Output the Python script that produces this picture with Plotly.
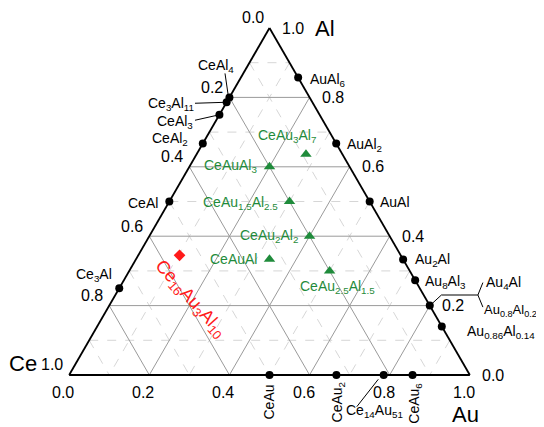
import plotly.graph_objects as go

# ---------------- data ----------------
tick_values = [0.0, 0.2, 0.4, 0.6, 0.8, 1.0]
tick_labels = ["0.0", "0.2", "0.4", "0.6", "0.8", "1.0"]
minor_values = [0.1, 0.3, 0.5, 0.7, 0.9]
grid_major = [0.2, 0.4, 0.6, 0.8]
grid_minor = [0.1, 0.3, 0.5, 0.7, 0.9]

binary_names = ["CeAl<sub>4</sub>", "Ce<sub>3</sub>Al<sub>11</sub>", "CeAl<sub>3</sub>",
                "CeAl<sub>2</sub>", "CeAl", "Ce<sub>3</sub>Al",
                "AuAl<sub>6</sub>", "AuAl<sub>2</sub>", "AuAl", "Au<sub>2</sub>Al",
                "Au<sub>8</sub>Al<sub>3</sub>", "Au<sub>4</sub>Al", "Au<sub>0.86</sub>Al<sub>0.14</sub>",
                "CeAu", "CeAu<sub>2</sub>", "Ce<sub>14</sub>Au<sub>51</sub>", "CeAu<sub>6</sub>"]
binary_ce = [0.200, 0.214, 0.250, 0.333, 0.500, 0.750,
             0.0, 0.0, 0.0, 0.0, 0.0, 0.0, 0.0,
             0.500, 0.333, 0.215, 0.143]
binary_au = [0.0, 0.0, 0.0, 0.0, 0.0, 0.0,
             0.143, 0.333, 0.500, 0.667, 0.727, 0.800, 0.860,
             0.500, 0.667, 0.785, 0.857]
binary_al = [0.800, 0.786, 0.750, 0.667, 0.500, 0.250,
             0.857, 0.667, 0.500, 0.333, 0.273, 0.200, 0.140,
             0.0, 0.0, 0.0, 0.0]
extra_label = "Au<sub>0.8</sub>Al<sub>0.2</sub>"   # same point as Au4Al

ternary_names = ["CeAu<sub>3</sub>Al<sub>7</sub>", "CeAuAl<sub>3</sub>",
                 "CeAu<sub>1.5</sub>Al<sub>2.5</sub>", "CeAu<sub>2</sub>Al<sub>2</sub>",
                 "CeAuAl", "CeAu<sub>2.5</sub>Al<sub>1.5</sub>"]
ternary_ce = [0.091, 0.200, 0.200, 0.200, 0.333, 0.200]
ternary_au = [0.273, 0.200, 0.300, 0.400, 0.333, 0.500]
ternary_al = [0.636, 0.600, 0.500, 0.400, 0.333, 0.300]

special_name = "Ce<sub>16</sub>Au<sub>3</sub>Al<sub>10</sub>"
special_ce = [0.552]
special_au = [0.103]
special_al = [0.345]

# ---------------- styling / placement ----------------
FONT = "Arial, Liberation Sans, sans-serif"
GREEN = "#1f8b3b"
RED = "#ff1a1a"


def to_paper(ce, au, al):
    # ternary domain fills the plot area exactly
    return au + al / 2.0, al


fig = go.Figure()


def add_lines(segs, color, width, dash):
    a, b, c = [], [], []
    for (al0, ce0, au0), (al1, ce1, au1) in segs:
        a += [al0, al1, None]
        b += [ce0, ce1, None]
        c += [au0, au1, None]
    fig.add_trace(go.Scatterternary(a=a, b=b, c=c, mode="lines",
                                    line=dict(color=color, width=width, dash=dash),
                                    hoverinfo="skip", cliponaxis=False))


def grid_segs(vals):
    segs = []
    for v in vals:
        segs.append(((v, 1 - v, 0), (v, 0, 1 - v)))      # const Al
        segs.append(((1 - v, v, 0), (0, v, 1 - v)))      # const Ce
        segs.append(((1 - v, 0, v), (0, 1 - v, v)))      # const Au
    return segs


add_lines(grid_segs(grid_minor), "#cccccc", 0.8, "dash")
add_lines(grid_segs(grid_major), "#9a9a9a", 1.0, "solid")


def tick_segs(vals, d):
    segs = []
    for t in vals:
        segs.append(((0, 1 - t, t), (-d, 1 - t + d, t)))     # bottom (Au)
        segs.append(((1 - t, t, 0), (1 - t + d, t, -d)))     # left (Ce)
        segs.append(((t, 0, 1 - t), (t, -d, 1 - t + d)))     # right (Al)
    return segs


TL = 6.0 / 401
add_lines(tick_segs(tick_values, TL), "black", 1.2, "solid")
add_lines(tick_segs(minor_values, TL / 2), "black", 1.0, "solid")

fig.add_trace(go.Scatterternary(a=binary_al, b=binary_ce, c=binary_au, mode="markers",
                                marker=dict(color="black", size=8, symbol="circle"),
                                cliponaxis=False, hoverinfo="skip"))
fig.add_trace(go.Scatterternary(a=ternary_al, b=ternary_ce, c=ternary_au, mode="markers",
                                marker=dict(color=GREEN, size=10, symbol="triangle-up"),
                                cliponaxis=False, hoverinfo="skip"))
fig.add_trace(go.Scatterternary(a=special_al, b=special_ce, c=special_au, mode="markers",
                                marker=dict(color=RED, size=9, symbol="diamond"),
                                cliponaxis=False, hoverinfo="skip"))

annotations = []
shapes = []


def ann(px, py, text, dx, dy, xa="center", ya="middle", size=14, color="black", angle=0):
    annotations.append(dict(x=px, y=py, xref="paper", yref="paper", text=text,
                            showarrow=False, xanchor=xa, yanchor=ya,
                            xshift=dx, yshift=-dy, textangle=angle,
                            font=dict(family=FONT, size=size, color=color)))


# tick labels
for t, lab in zip(tick_values, tick_labels):
    bx, by = to_paper(1 - t + TL, t, -TL)
    ann(bx, by, lab, -3, 2, "center", "top", 16)
    lx, ly = to_paper(t, -TL, 1 - t + TL)
    ann(lx, ly, lab, -1, -5, "right", "middle", 16)
    rx, ry = to_paper(-TL, 1 - t + TL, t)
    ann(rx, ry, lab, 4, 0, "left", "middle", 16)

# vertex names
ax_, ay_ = to_paper(0, 0, 1)
ann(ax_, ay_, "Al", 55, 0, "center", "middle", 22)
cx_, cy_ = to_paper(1, 0, 0)
ann(cx_, cy_, "Ce", -46, -12, "center", "middle", 22)
ux_, uy_ = to_paper(0, 1, 0)
ann(ux_, uy_, "Au", -5, 39, "center", "middle", 22)

# compound label placement: dx, dy (down), xanchor, yanchor, angle
place = {
    "CeAl<sub>4</sub>": (-13, -31, "center", "middle", 0),
    "Ce<sub>3</sub>Al<sub>11</sub>": (-31, 2, "right", "middle", 0),
    "CeAl<sub>3</sub>": (-24, 7, "right", "middle", 0),
    "CeAl<sub>2</sub>": (-13, -5, "right", "middle", 0),
    "CeAl": (-9, 1, "right", "middle", 0),
    "Ce<sub>3</sub>Al": (-5, -13, "right", "middle", 0),
    "AuAl<sub>6</sub>": (10, 2, "left", "middle", 0),
    "AuAl<sub>2</sub>": (9, 1, "left", "middle", 0),
    "AuAl": (8, 0, "left", "middle", 0),
    "Au<sub>2</sub>Al": (10, 1, "left", "middle", 0),
    "Au<sub>8</sub>Al<sub>3</sub>": (8, 2, "left", "middle", 0),
    "Au<sub>4</sub>Al": (54, -23, "left", "middle", 0),
    "Au<sub>0.86</sub>Al<sub>0.14</sub>": (23, 6, "left", "middle", 0),
    "CeAu": (-1, 27, "center", "middle", -90),
    "CeAu<sub>2</sub>": (2, 27, "center", "middle", -90),
    "Ce<sub>14</sub>Au<sub>51</sub>": (-9, 36, "center", "middle", 0),
    "CeAu<sub>6</sub>": (2, 28, "center", "middle", -90),
}

for n, ce, au, al in zip(binary_names, binary_ce, binary_au, binary_al):
    px, py = to_paper(ce, au, al)
    dx, dy, xa, ya, ang = place[n]
    ann(px, py, n, dx, dy, xa, ya, 14, "black", ang)
    if n == "Au<sub>4</sub>Al":
        ann(px, py, extra_label, 52, 5, "left", "middle", 13)
        shapes.append(dict(type="path", xref="paper", yref="paper",
                           xsizemode="pixel", ysizemode="pixel", xanchor=px, yanchor=py,
                           path="M 0,0 L 11.5,10.6 L 48,10.6 L 53,23 M 48,10.6 L 53,-1.5",
                           line=dict(color="black", width=1)))

leaders = {
    "CeAl<sub>4</sub>": (-4.4, 24, -0.9, 0),
    "Ce<sub>3</sub>Al<sub>11</sub>": (-31.6, -1, 0, 0),
    "CeAl<sub>3</sub>": (-24.4, -5.5, 0, 0),
    "Ce<sub>14</sub>Au<sub>51</sub>": (-27, -31.7, -5.5, -4.3),
}
for n, ce, au, al in zip(binary_names, binary_ce, binary_au, binary_al):
    if n in leaders:
        px, py = to_paper(ce, au, al)
        x0, y0, x1, y1 = leaders[n]
        shapes.append(dict(type="line", xref="paper", yref="paper",
                           xsizemode="pixel", ysizemode="pixel", xanchor=px, yanchor=py,
                           x0=x0, y0=y0, x1=x1, y1=y1,
                           line=dict(color="black", width=1)))

tplace = {
    "CeAu<sub>3</sub>Al<sub>7</sub>": (-19, -18, "center", "middle"),
    "CeAuAl<sub>3</sub>": (-11, -1, "right", "middle"),
    "CeAu<sub>1.5</sub>Al<sub>2.5</sub>": (-10, 1, "right", "middle"),
    "CeAu<sub>2</sub>Al<sub>2</sub>": (-10, 0, "right", "middle"),
    "CeAuAl": (-10, 0, "right", "middle"),
    "CeAu<sub>2.5</sub>Al<sub>1.5</sub>": (8, 16, "center", "middle"),
}
for n, ce, au, al in zip(ternary_names, ternary_ce, ternary_au, ternary_al):
    px, py = to_paper(ce, au, al)
    dx, dy, xa, ya = tplace[n]
    ann(px, py, n, dx, dy, xa, ya, 14, GREEN)

sx, sy = to_paper(special_ce[0], special_au[0], special_al[0])
ann(sx, sy, special_name, 11, 44, "center", "middle", 18, RED, 48)

axis_style = dict(showgrid=False, showticklabels=False, ticks="", showline=True,
                  linecolor="black", linewidth=1.8, title=dict(text=""))
# the page body adds an 8px offset, so the figure is 8px smaller than the window
fig.update_layout(
    width=536, height=419,
    margin=dict(l=61, r=74, t=20, b=52),
    paper_bgcolor="white",
    showlegend=False,
    ternary=dict(sum=1, domain=dict(x=[0, 1], y=[0, 1]), bgcolor="white",
                 aaxis=axis_style, baxis=axis_style, caxis=axis_style),
    annotations=annotations,
    shapes=shapes,
    font=dict(family=FONT),
)

fig.write_html("out.html")
